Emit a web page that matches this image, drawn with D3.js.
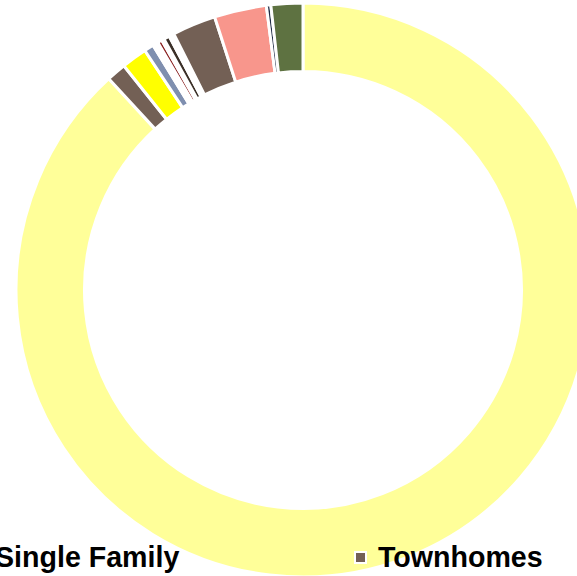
<!DOCTYPE html>
<html>
<head>
<meta charset="utf-8">
<script src="https://cdn.jsdelivr.net/npm/d3@7"></script>
<style>
  html, body { margin: 0; padding: 0; background: #fff; overflow: hidden; }
  svg { display: block; }
</style>
</head>
<body>
<svg id="chart" width="577" height="576"></svg>
<script>
// Categories in drawing order (clockwise from 12 o'clock)
const categories = [
  "Single Family", "Townhomes", "Condominiums", "Duplex", "Gap 1",
  "Triplex", "Gap 2", "Fourplex", "Gap 3", "Apartments",
  "Mobile Homes", "Group Quarters", "Other"
];
// Share of total (%)
const shares = [88.17, 1.10, 1.44, 0.54, 0.31, 0.25, 0.14, 0.33, 0.28, 2.46, 2.94, 0.25, 1.79];
const colors = [
  "#FFFF99", "#736055", "#FFFF00", "#7F8FAF", "#FFFFFF",
  "#8B2222", "#FFFFFF", "#3B3028", "#FFFFFF", "#736055",
  "#F8968C", "#1F2A44", "#5E7241"
];
// Legend entries visible in the picture
const legendItems = ["Single Family", "Townhomes"];

const data = categories.map((c, i) => ({ name: c, value: shares[i], color: colors[i] }));

const svg = d3.select("#chart");
const cx = 303, cy = 290, outerR = 287, innerR = 218.5;

const pie = d3.pie().value(d => d.value).sort(null).startAngle(0).endAngle(2 * Math.PI);
const arc = d3.arc().innerRadius(innerR).outerRadius(outerR);

const g = svg.append("g").attr("transform", `translate(${cx},${cy})`);
g.selectAll("path")
  .data(pie(data))
  .join("path")
  .attr("d", arc)
  .attr("fill", d => d.data.color)
  .attr("stroke", "#fff")
  .attr("stroke-width", 3)
  .attr("stroke-linejoin", "miter");

// Legend (only the first row fits inside the frame)
const legendX = d3.scaleOrdinal().domain(legendItems).range([-5, 378]);
const legend = svg.append("g");
legendItems.forEach(name => {
  const d = data.find(e => e.name === name);
  const x = legendX(name);
  legend.append("rect")
    .attr("x", x - 23).attr("y", 552)
    .attr("width", 11).attr("height", 11)
    .attr("fill", d.color)
    .attr("stroke", "#fff").attr("stroke-width", 2);
  legend.append("text")
    .attr("x", x).attr("y", 567)
    .attr("font-family", "'Liberation Sans', Arial, sans-serif")
    .attr("font-weight", "bold")
    .attr("font-size", 28.6)
    .attr("fill", "#000")
    .text(name);
});
</script>
</body>
</html>
